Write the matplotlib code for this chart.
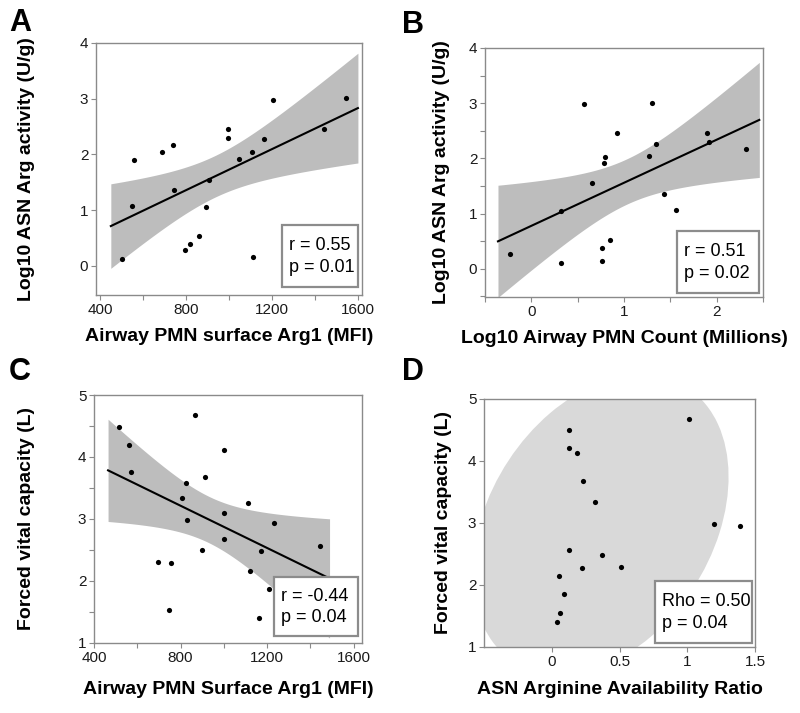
import numpy as np
import matplotlib
matplotlib.use("Agg")
import matplotlib.pyplot as plt
from matplotlib.patches import Ellipse, Rectangle
from matplotlib.ticker import MultipleLocator, FixedLocator, FuncFormatter

plt.rcParams['font.family'] = ['Liberation Sans', 'DejaVu Sans']

# Panel A: airway PMN surface Arg1 (MFI) vs log10 ASN Arg activity
a_x = [501, 547, 560, 687, 738, 746, 797, 819, 859, 893, 908, 994, 994, 1047,
       1107, 1113, 1161, 1205, 1442, 1544]
a_y = [0.13, 1.08, 1.90, 2.05, 2.17, 1.36, 0.29, 0.39, 0.54, 1.05, 1.55, 2.46,
       2.29, 1.92, 2.04, 0.16, 2.27, 2.98, 2.46, 3.01]

# Panel B: log10 airway PMN count vs log10 ASN Arg activity
b_x = [-0.23, 0.32, 0.32, 0.57, 0.65, 0.76, 0.76, 0.78, 0.80, 0.85, 0.92, 1.27,
       1.30, 1.35, 1.43, 1.56, 1.90, 1.92, 2.32]
b_y = [0.27, 0.11, 1.04, 2.99, 1.55, 0.14, 0.37, 1.91, 2.03, 0.52, 2.46, 2.04,
       3.01, 2.26, 1.36, 1.06, 2.46, 2.29, 2.17]

# Panel C: airway PMN surface Arg1 vs forced vital capacity
c_x = [514, 561, 572, 697, 755, 748, 806, 824, 828, 868, 901, 915, 1000, 1001,
       1001, 1112, 1120, 1171, 1210, 1232, 1443, 1165]
c_y = [4.49, 4.20, 3.75, 2.30, 2.29, 1.54, 3.34, 3.58, 2.98, 4.67, 2.50, 3.67,
       4.12, 3.10, 2.67, 3.25, 2.16, 2.48, 1.87, 2.94, 2.56, 1.41]

# Panel D: ASN arginine availability ratio vs forced vital capacity
d_x = [0.13, 0.13, 0.19, 0.23, 0.32, 1.01, 1.20, 1.39, 0.13, 0.37, 0.22, 0.51,
       0.05, 0.09, 0.06, 0.04]
d_y = [4.50, 4.21, 4.13, 3.68, 3.34, 4.68, 2.98, 2.95, 2.56, 2.48, 2.28, 2.29,
       2.15, 1.86, 1.54, 1.41]

# confidence ellipse of panel D (centre, half extents along x / y, correlation)
ell_center = (0.36, 2.97)
ell_half = (0.945, 2.42)
ell_rho = 0.32

stats_a = ["r = 0.55", "p = 0.01"]
stats_b = ["r = 0.51", "p = 0.02"]
stats_c = ["r = -0.44", "p = 0.04"]
stats_d = ["Rho = 0.50", "p = 0.04"]

T95 = {17: 2.110, 18: 2.101, 20: 2.086}

SPINE = '#8a8a8a'
BAND = '#bdbdbd'


def style_axes(ax):
    for s in ax.spines.values():
        s.set_color(SPINE)
        s.set_linewidth(1.0)
    ax.tick_params(which='both', direction='out', length=3.5, width=0.8,
                   color=SPINE, labelsize=11, labelcolor='#1a1a1a', pad=2)


def fit_band(ax, x, y, lo, hi):
    x = np.asarray(x, float)
    y = np.asarray(y, float)
    n = len(x)
    b, a = np.polyfit(x, y, 1)
    resid = y - (a + b * x)
    s = np.sqrt(np.sum(resid ** 2) / (n - 2))
    xs = np.linspace(lo, hi, 200)
    se = s * np.sqrt(1.0 / n + (xs - x.mean()) ** 2 / np.sum((x - x.mean()) ** 2))
    yh = a + b * xs
    t = T95[n - 2]
    ax.fill_between(xs, yh - t * se, yh + t * se, color=BAND, lw=0, zorder=1)
    ax.plot(xs, yh, color='black', lw=1.5, zorder=2)


def stat_box(ax, lines, x0, y0, x1, y1):
    ax.add_patch(Rectangle((x0, y0), x1 - x0, y1 - y0, transform=ax.transAxes,
                           facecolor='white', edgecolor='#8c8c8c', lw=1.6,
                           zorder=5, clip_on=False))
    h = y1 - y0
    ax.text(x0 + 0.025, y1 - 0.33 * h, lines[0], transform=ax.transAxes,
            fontsize=13, va='center', ha='left', zorder=6)
    ax.text(x0 + 0.025, y1 - 0.68 * h, lines[1], transform=ax.transAxes,
            fontsize=13, va='center', ha='left', zorder=6)


fig = plt.figure(figsize=(8, 7.13), dpi=100)
axA = fig.add_axes([0.12, 0.5863, 0.3325, 0.3534])
axB = fig.add_axes([0.60625, 0.5835, 0.3475, 0.3492])
axC = fig.add_axes([0.1175, 0.0982, 0.335, 0.3478])
axD = fig.add_axes([0.605, 0.0926, 0.33875, 0.3478])

# ---- A
style_axes(axA)
fit_band(axA, a_x, a_y, 450, 1600)
axA.scatter(a_x, a_y, s=14, color='black', zorder=3, lw=0)
axA.set_xlim(381, 1619)
axA.set_ylim(-0.52, 4)
axA.xaxis.set_major_locator(FixedLocator([400, 800, 1200, 1600]))
axA.xaxis.set_minor_locator(FixedLocator([600, 1000, 1400]))
axA.yaxis.set_major_locator(MultipleLocator(1))
stat_box(axA, stats_a, 0.699, 0.032, 0.985, 0.278)
axA.set_xlabel("Airway PMN surface Arg1 (MFI)", fontsize=14, fontweight='bold')
axA.set_ylabel("Log10 ASN Arg activity (U/g)", fontsize=14, fontweight='bold')
axA.xaxis.set_label_coords(0.5, -0.13)
axA.yaxis.set_label_coords(-0.229, 0.5)

# ---- B
style_axes(axB)
fit_band(axB, b_x, b_y, -0.36, 2.46)
axB.scatter(b_x, b_y, s=14, color='black', zorder=3, lw=0)
axB.set_xlim(-0.5, 2.5)
axB.set_ylim(-0.51, 4)
axB.xaxis.set_major_locator(FixedLocator([0, 1, 2]))
axB.xaxis.set_minor_locator(FixedLocator([-0.5, 0.5, 1.5, 2.5]))
axB.yaxis.set_major_locator(MultipleLocator(1))
axB.yaxis.set_minor_locator(MultipleLocator(0.5))
stat_box(axB, stats_b, 0.691, 0.016, 0.986, 0.265)
axB.set_xlabel("Log10 Airway PMN Count (Millions)", fontsize=14, fontweight='bold')
axB.set_ylabel("Log10 ASN Arg activity (U/g)", fontsize=14, fontweight='bold')
axB.xaxis.set_label_coords(0.5, -0.133)
axB.yaxis.set_label_coords(-0.126, 0.5)

# ---- C
style_axes(axC)
fit_band(axC, c_x, c_y, 465, 1489)
axC.scatter(c_x, c_y, s=14, color='black', zorder=3, lw=0)
axC.set_xlim(400, 1639)
axC.set_ylim(1, 5)
axC.xaxis.set_major_locator(FixedLocator([400, 800, 1200, 1600]))
axC.xaxis.set_minor_locator(FixedLocator([600, 1000, 1400]))
axC.yaxis.set_major_locator(MultipleLocator(1))
axC.yaxis.set_minor_locator(MultipleLocator(0.5))
stat_box(axC, stats_c, 0.672, 0.028, 0.985, 0.266)
axC.set_xlabel("Airway PMN Surface Arg1 (MFI)", fontsize=14, fontweight='bold')
axC.set_ylabel("Forced vital capacity (L)", fontsize=14, fontweight='bold')
axC.xaxis.set_label_coords(0.5, -0.153)
axC.yaxis.set_label_coords(-0.22, 0.5)

# ---- D
style_axes(axD)
hx, hy = ell_half
M = np.array([[hx * hx, ell_rho * hx * hy], [ell_rho * hx * hy, hy * hy]])
vals, vecs = np.linalg.eigh(M)
order = vals.argsort()[::-1]
vals, vecs = vals[order], vecs[:, order]
ang = np.degrees(np.arctan2(vecs[1, 0], vecs[0, 0]))
axD.add_patch(Ellipse(ell_center, 2 * np.sqrt(vals[0]), 2 * np.sqrt(vals[1]),
                      angle=ang, facecolor='#d9d9d9', edgecolor='none', zorder=1))
axD.scatter(d_x, d_y, s=14, color='black', zorder=3, lw=0)
axD.set_xlim(-0.5, 1.5)
axD.set_ylim(1, 5)
axD.xaxis.set_major_locator(FixedLocator([0, 0.5, 1, 1.5]))
axD.xaxis.set_major_formatter(FuncFormatter(lambda v, p: "%g" % v))
axD.yaxis.set_major_locator(MultipleLocator(1))
stat_box(axD, stats_d, 0.631, 0.016, 0.989, 0.266)
axD.set_xlabel("ASN Arginine Availability Ratio", fontsize=14, fontweight='bold')
axD.set_ylabel("Forced vital capacity (L)", fontsize=14, fontweight='bold')
axD.xaxis.set_label_coords(0.5, -0.137)
axD.yaxis.set_label_coords(-0.118, 0.5)

# panel letters
for lab, (px, py) in zip("ABCD", [(9, 31), (402, 33), (9, 380), (402, 380)]):
    fig.text(px / 800, 1 - py / 713, lab, fontsize=22, fontweight='bold',
             ha='left', va='baseline')

fig.savefig("out.png", dpi=100)
